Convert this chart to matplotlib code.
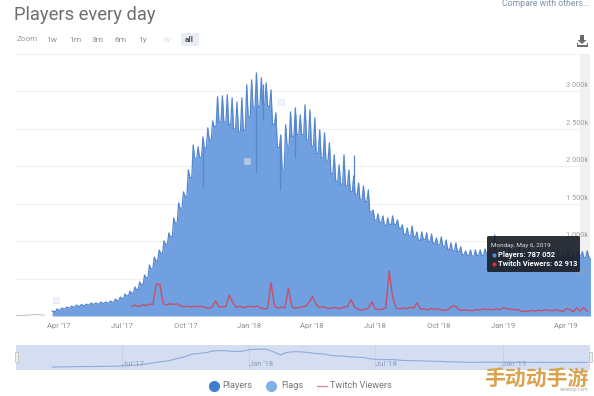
import numpy as np
import pandas as pd
import matplotlib
matplotlib.use("Agg")
import matplotlib.pyplot as plt
from matplotlib.patches import FancyBboxPatch, Rectangle, Polygon

plt.rcParams['font.family'] = ['Roboto', 'DejaVu Sans']

# weekly highs / lows of the players series, in thousands
players_high = [67, 94, 107, 120, 134, 147, 154, 160, 174, 174, 187, 187, 200, 227, 254, 294, 334, 388, 455, 548,
                682, 789, 882, 1003, 1110, 1310, 1511, 1658, 1952, 2286, 2260, 2393, 2514, 2607, 2928, 2941, 2955, 2915, 2861, 2915,
                3089, 3155, 3249, 3182, 3115, 3022, 2714, 2420, 2554, 2727, 2781, 2687, 2821, 2754, 2647, 2487, 2447, 2313, 2153, 2019,
                2153, 1952, 1872, 1778, 1738, 1685, 1417, 1364, 1337, 1310, 1337, 1284, 1217, 1177, 1203, 1123, 1123, 1110, 1096, 1043,
                1056, 1016, 976, 976, 923, 869, 882, 882, 882, 896, 909, 1083, 882,
                900, 905, 880, 930, 885, 900, 870, 910, 880, 860, 890, 900, 870, 880, 850, 855, 860, 870]
players_low = [60, 80, 95, 108, 120, 130, 140, 148, 158, 160, 170, 175, 185, 205, 235, 270, 305, 355, 420, 510,
               630, 740, 840, 960, 1060, 1240, 1440, 1600, 1850, 2100, 2120, 2240, 2350, 2530, 2590, 2590, 2560, 2500, 2460, 2480,
               2660, 2780, 2800, 2820, 2800, 2560, 2250, 1950, 2270, 2400, 2420, 2420, 2350, 2270, 2170, 2110, 2070, 1900, 1800, 1760,
               1740, 1660, 1620, 1550, 1530, 1390, 1280, 1250, 1210, 1220, 1220, 1170, 1090, 1070, 1060, 1010, 1020, 990, 970, 950,
               930, 890, 870, 860, 820, 810, 800, 810, 810, 820, 820, 810, 800,
               800, 810, 790, 800, 810, 780, 800, 790, 780, 800, 790, 780, 790, 780, 790, 800, 780, 787]

# narrow one day drops that show as thin dark lines inside the area
dip_dates = ["2017-10-26", "2018-01-11", "2018-01-20", "2018-02-14", "2018-03-07", "2018-06-01"]
dip_tops = [2250, 2800, 3100, 2300, 2700, 2150]
dip_values = [1725, 1912, 2620, 1685, 2112, 1640]

# five day samples of twitch viewers, in thousands
twitch = [130, 145, 125, 150, 140, 160, 150, 430, 420, 160, 150, 165, 155, 160, 135, 125, 130, 120, 130, 125,
          130, 115, 100, 120, 200, 125, 120, 130, 280, 180, 115, 130, 110, 125, 130, 120, 135, 105, 95, 100,
          445, 130, 105, 120, 110, 370, 120, 105, 110, 125, 130, 190, 260, 150, 110, 125, 105, 100, 115, 105,
          100, 120, 125, 220, 120, 90, 80, 90, 100, 190, 95, 85, 90, 110, 600, 250, 105, 95, 110, 95,
          120, 100, 175, 90, 95, 80, 100, 85, 100, 80, 75, 85, 130, 135, 85, 75, 80, 75, 70, 85,
          80, 95, 85, 90, 80, 95, 85, 115, 95, 90, 85, 85, 65, 60, 65, 75, 65, 80, 70, 85,
          75, 70, 85, 70, 60, 100, 85, 55, 110, 65, 115, 63]

flag_dates = ["2017-03-29", "2017-12-29", "2018-02-16"]
flag_values = [214, 2072, 2860]

tick_dates = ["2017-04-01", "2017-07-01", "2017-10-01", "2018-01-01", "2018-04-01",
              "2018-07-01", "2018-10-01", "2019-01-01", "2019-04-01"]
tick_labels = ["Apr '17", "Jul '17", "Oct '17", "Jan '18", "Apr '18", "Jul '18", "Oct '18", "Jan '19", "Apr '19"]
y_ticks = [0, 500, 1000, 1500, 2000, 2500, 3000, 3500]
y_labels = {500: "500k", 1000: "1 000k", 1500: "1 500k", 2000: "2 000k", 2500: "2 500k", 3000: "3 000k"}
nav_dates = ["2017-07-01", "2018-01-01", "2018-07-01", "2019-01-01"]
nav_labels = ["Jul '17", "Jan '18", "Jul '18", "Jan '19"]
zoom_labels = ["1w", "1m", "3m", "6m", "1y", "3y", "all"]

# each week: a short high, then the low held for a few days
weeks = pd.date_range("2017-03-23", periods=len(players_high), freq="7D")
x_players = np.empty(len(weeks) * 3, dtype="datetime64[ns]")
x_players[0::3] = weeks
x_players[1::3] = weeks + pd.Timedelta(days=2)
x_players[2::3] = weeks + pd.Timedelta(days=5)
y_players = np.empty(len(weeks) * 3)
y_players[0::3] = players_high
y_players[1::3] = players_low
y_players[2::3] = players_low
x_twitch = pd.date_range("2017-07-16", periods=len(twitch), freq="5D")
xlim = (pd.Timestamp("2017-01-30"), pd.Timestamp("2019-05-06"))

W, H = 594, 396
fig = plt.figure(figsize=(W / 100, H / 100), dpi=100)


def px_axes(left, top, right, bottom):
    return fig.add_axes([left / W, 1 - bottom / H, (right - left) / W, (bottom - top) / H])


# main chart
ax = px_axes(16, 54, 590, 316)
ax.axvspan(pd.Timestamp("2019-04-22"), xlim[1], color="#f1f1f1", lw=0, zorder=0)
ax.fill_between(x_players, y_players, color="#71a0e0", lw=0, zorder=2)
ax.plot(x_players, y_players, color="#5586d0", lw=0.9, zorder=3)
ax.vlines(pd.to_datetime(dip_dates), dip_values, dip_tops, color="#5586d0", lw=0.9, zorder=3)
ax.plot(x_twitch, twitch, color="#c4506a", lw=1.0, zorder=4)
ax.plot(pd.to_datetime(flag_dates), flag_values, ls="none", marker="s", ms=5,
        mfc="#e3e9f4", mec="#cfd8e8", mew=0.5, alpha=0.55, zorder=5)
ax.plot(pd.to_datetime(["2017-01-30", "2017-02-05", "2017-03-01", "2017-03-12"]), [8, 8, 18, 12],
        color="#9aa5b5", lw=0.5, zorder=3)
ax.set_xlim(xlim)
ax.set_ylim(0, 3500)
ax.set_yticks(y_ticks)
ax.set_yticklabels([])
ax.grid(axis="y", color="#f0f0f0", lw=0.8)
ax.set_axisbelow(True)
ax.tick_params(axis="y", length=0)
ax.set_xticks(pd.to_datetime(tick_dates))
ax.set_xticklabels(tick_labels, fontsize=5.5, color="#8c8c8c")
ax.tick_params(axis="x", length=0, pad=5)
for s in ax.spines.values():
    s.set_visible(False)
for v, lab in y_labels.items():
    ax.annotate(lab, (1, v), xycoords=("axes fraction", "data"), xytext=(-1, 1.5), textcoords="offset points",
                ha="right", va="bottom", fontsize=5.3, color="#a0a0a0", zorder=6)

# navigator
nav = px_axes(16, 345, 590, 370)
nav.set_facecolor("#d5def1")
nav.plot(weeks, players_low, color="#8dabdd", lw=0.8)
nav.set_xlim(xlim)
nav.set_ylim(-385, 3460)
nav.set_xticks(pd.to_datetime(nav_dates))
nav.set_xticklabels([])
nav.set_yticks([])
nav.grid(axis="x", color="#c4cfe6", lw=0.6)
nav.tick_params(length=0)
for s in nav.spines.values():
    s.set_visible(False)
for d, lab in zip(nav_dates, nav_labels):
    nav.annotate(lab, (pd.Timestamp(d), 0), xycoords=("data", "axes fraction"), xytext=(8, 4), textcoords="offset points",
                 ha="center", va="center", fontsize=5.5, color="#8b9cc0")

# overlay in pixel coordinates for the page furniture
top = fig.add_axes([0, 0, 1, 1], zorder=10)
top.set_xlim(0, W)
top.set_ylim(H, 0)
top.axis("off")
top.patch.set_alpha(0)

top.text(14, 15, "Players every day", fontsize=13.2, color="#6e6e6e", va="center", ha="left")
top.text(590, 4, "Compare with others...", fontsize=6.3, color="#7f92ad", va="center", ha="right")
top.text(17, 39, "Zoom", fontsize=5.8, color="#999999", va="center", ha="left")
top.add_patch(FancyBboxPatch((181, 33), 18, 13, boxstyle="round,pad=0,rounding_size=2", fc="#e9edf6", ec="none"))
for x, lab in zip([52, 75, 98, 121, 143, 167, 189], zoom_labels):
    c = "#909090"
    if lab == "3y":
        c = "#e0e0e0"
    if lab == "all":
        c = "#555555"
    top.text(x, 40, lab, fontsize=6, color=c, ha="center", va="center", fontweight="bold" if lab == "all" else "normal")

# download icon
top.add_patch(Polygon([(580, 35), (584, 35), (584, 40), (586.5, 40), (582, 44), (577.5, 40), (580, 40)], fc="#6a6a6a", ec="none"))
top.add_patch(Polygon([(576.5, 43), (577.5, 43), (577.5, 45), (586.5, 45), (586.5, 43), (587.5, 43), (587.5, 46.5), (576.5, 46.5)], fc="#6a6a6a", ec="none"))

# tooltip
top.add_patch(FancyBboxPatch((487, 236), 93, 36, boxstyle="round,pad=0,rounding_size=1.5", fc="#1b202a", ec="none", alpha=0.93))
top.text(491, 246, "Monday, May 6, 2019", fontsize=4.6, color="#dddddd", va="center")
top.plot([494], [255], "o", ms=2, color="#4f8fdc")
top.text(498, 255, "Players: 787 052", fontsize=5.4, color="white", va="center", fontweight="bold")
top.plot([494], [264], "o", ms=2, color="#d03040")
top.text(498, 264, "Twitch Viewers: 62 913", fontsize=5.4, color="white", va="center", fontweight="bold")

# navigator handles
top.add_patch(Rectangle((14.5, 352), 3, 10, fc="#eeeeee", ec="#bbbbbb", lw=0.5))
top.add_patch(Rectangle((588.5, 352), 3, 10, fc="#eeeeee", ec="#bbbbbb", lw=0.5))

# legend
top.plot([214], [386], "o", ms=7, color="#3f7ecf")
top.text(222, 386, "Players", fontsize=6.6, color="#777777", va="center")
top.plot([271], [386], "o", ms=7, color="#7fb1e6")
top.text(281, 386, "Flags", fontsize=6.6, color="#777777", va="center")
top.plot([317, 327], [386, 386], color="#d9919c", lw=1)
top.text(330, 386, "Twitch Viewers", fontsize=6.6, color="#777777", va="center")

# watermark
top.text(536, 378, "手动动手游", fontsize=15, fontweight="bold", color="#d9a24e",
         family=["Noto Sans CJK SC", "DejaVu Sans"], ha="center", va="center")
top.text(574, 390, "ceeetop.com", fontsize=3.5, color="#aaaaaa", ha="center", va="center")

fig.savefig("out.png", dpi=100)
